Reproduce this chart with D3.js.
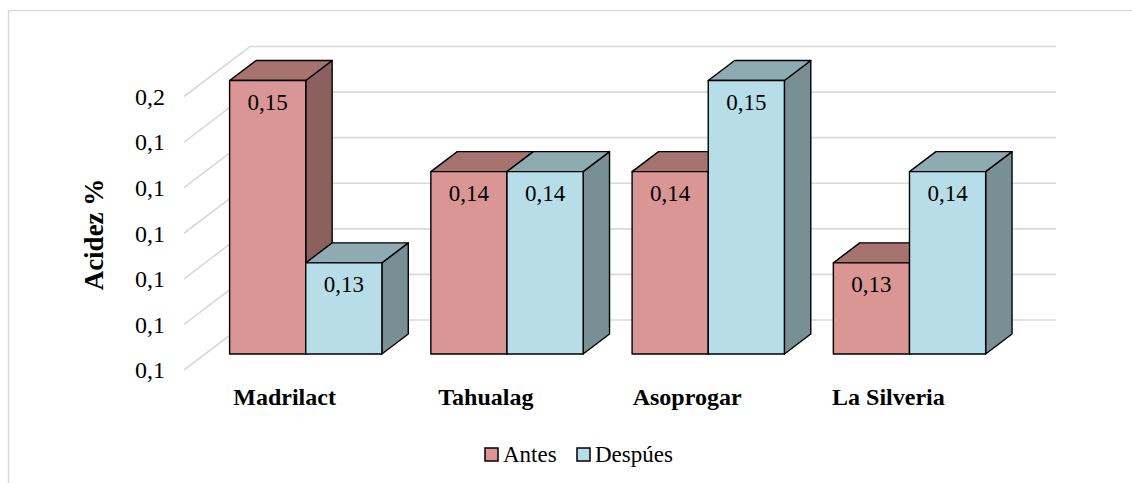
<!DOCTYPE html>
<html><head><meta charset="utf-8">
<script src="https://cdn.jsdelivr.net/npm/d3@7"></script>
<style>html,body{margin:0;padding:0;background:#fff;}svg{display:block;}</style>
</head><body>
<svg id="chart" width="1132" height="483"></svg>
<script>
const categories = ["Madrilact", "Tahualag", "Asoprogar", "La Silveria"];
const seriesNames = ["Antes", "Despúes"];
const antes = [0.15, 0.14, 0.14, 0.13];
const despues = [0.13, 0.14, 0.15, 0.14];
const tickValues = [0.12, 0.125, 0.13, 0.135, 0.14, 0.145, 0.15];
const tickLabels = ["0,1", "0,1", "0,1", "0,1", "0,1", "0,1", "0,2"];
const yTitle = "Acidez %";

const colors = {
  "Antes":   {front: "#d99694", top: "#a7736f", side: "#8c605e"},
  "Despúes": {front: "#b7dee8", top: "#8eabb2", side: "#788f94"}
};
const seriesValues = {"Antes": antes, "Despúes": despues};

const svg = d3.select("#chart");
const FONT = "Liberation Serif, Times New Roman, serif";
// outer border
svg.append("rect").attr("x", 8.5).attr("y", 10.5).attr("width", 1140).attr("height", 480)
  .attr("fill", "none").attr("stroke", "#d9d9d9").attr("stroke-width", 1.5);

// oblique 3D projection
const depthX = 66, depthY = 50;
const x0 = d3.scaleBand().domain(categories).range([184, 989]).paddingInner(0.2433).paddingOuter(0.12165);
const x1 = d3.scaleBand().domain(seriesNames).range([0, x0.bandwidth()]);
const y = d3.scaleLinear().domain([0.12, 0.15]).range([370, 96.5]);
const P = (x, v, d) => [x + d * depthX, y(v) - d * depthY];

// gridlines: back wall + side diagonals
const grid = svg.append("g").attr("stroke", "#d9d9d9").attr("stroke-width", 1.6).attr("fill", "none");
tickValues.forEach(t => {
  const a = P(184, t, 0), b = P(184, t, 1), c = P(990, t, 1);
  grid.append("polyline").attr("points", [a, b, c].map(p => p.join(",")).join(" "));
});

// y tick labels
svg.append("g").selectAll("text").data(tickValues).join("text")
  .attr("x", 165).attr("y", d => y(d)).attr("dy", "0.35em")
  .attr("text-anchor", "end")
  .attr("font-family", FONT).attr("font-size", 24)
  .attr("fill", "#000")
  .text((d, i) => tickLabels[i]);

// y title
svg.append("text").attr("transform", "translate(103,234.5) rotate(-90)")
  .attr("text-anchor", "middle")
  .attr("font-family", FONT).attr("font-size", 27).attr("font-weight", "bold")
  .text(yTitle);

// bars
const d0 = 0.32, d1 = 0.72;
const bars = [];
categories.forEach((c, i) => {
  seriesNames.forEach(s => bars.push({cat: c, s: s, v: seriesValues[s][i]}));
});
const fmt = v => d3.format(".2f")(v).replace(".", ",");
const gBars = svg.append("g").attr("stroke", "#000").attr("stroke-width", 1.4).attr("stroke-linejoin", "round");
bars.forEach(b => {
  const xl = x0(b.cat) + x1(b.s), xr = xl + x1.bandwidth();
  const col = colors[b.s];
  const pts = arr => arr.map(p => p.join(",")).join(" ");
  gBars.append("polygon").attr("fill", col.side)
    .attr("points", pts([P(xr, b.v, d0), P(xr, b.v, d1), P(xr, 0.12, d1), P(xr, 0.12, d0)]));
  gBars.append("polygon").attr("fill", col.top)
    .attr("points", pts([P(xl, b.v, d0), P(xr, b.v, d0), P(xr, b.v, d1), P(xl, b.v, d1)]));
  gBars.append("polygon").attr("fill", col.front)
    .attr("points", pts([P(xl, b.v, d0), P(xr, b.v, d0), P(xr, 0.12, d0), P(xl, 0.12, d0)]));
});
// data labels
svg.append("g").selectAll("text").data(bars).join("text")
  .attr("x", d => P(x0(d.cat) + x1(d.s) + x1.bandwidth() / 2, d.v, d0)[0])
  .attr("y", d => P(0, d.v, d0)[1] + 21).attr("dy", "0.35em")
  .attr("text-anchor", "middle")
  .attr("font-family", FONT).attr("font-size", 23)
  .text(d => fmt(d.v));

// category labels
svg.append("g").selectAll("text").data(categories).join("text")
  .attr("x", d => x0(d) + x0.bandwidth() / 2).attr("y", 405)
  .attr("text-anchor", "middle")
  .attr("font-family", FONT).attr("font-size", 24).attr("font-weight", "bold")
  .text(d => d);

// legend
const legX = [485, 577];
const leg = svg.append("g");
seriesNames.forEach((s, i) => {
  leg.append("rect").attr("x", legX[i]).attr("y", 448).attr("width", 13).attr("height", 13)
    .attr("fill", colors[s].front).attr("stroke", "#000").attr("stroke-width", 1.5);
  leg.append("text").attr("x", legX[i] + 18).attr("y", 462)
    .attr("font-family", FONT).attr("font-size", 23)
    .text(s);
});
</script>
</body></html>
